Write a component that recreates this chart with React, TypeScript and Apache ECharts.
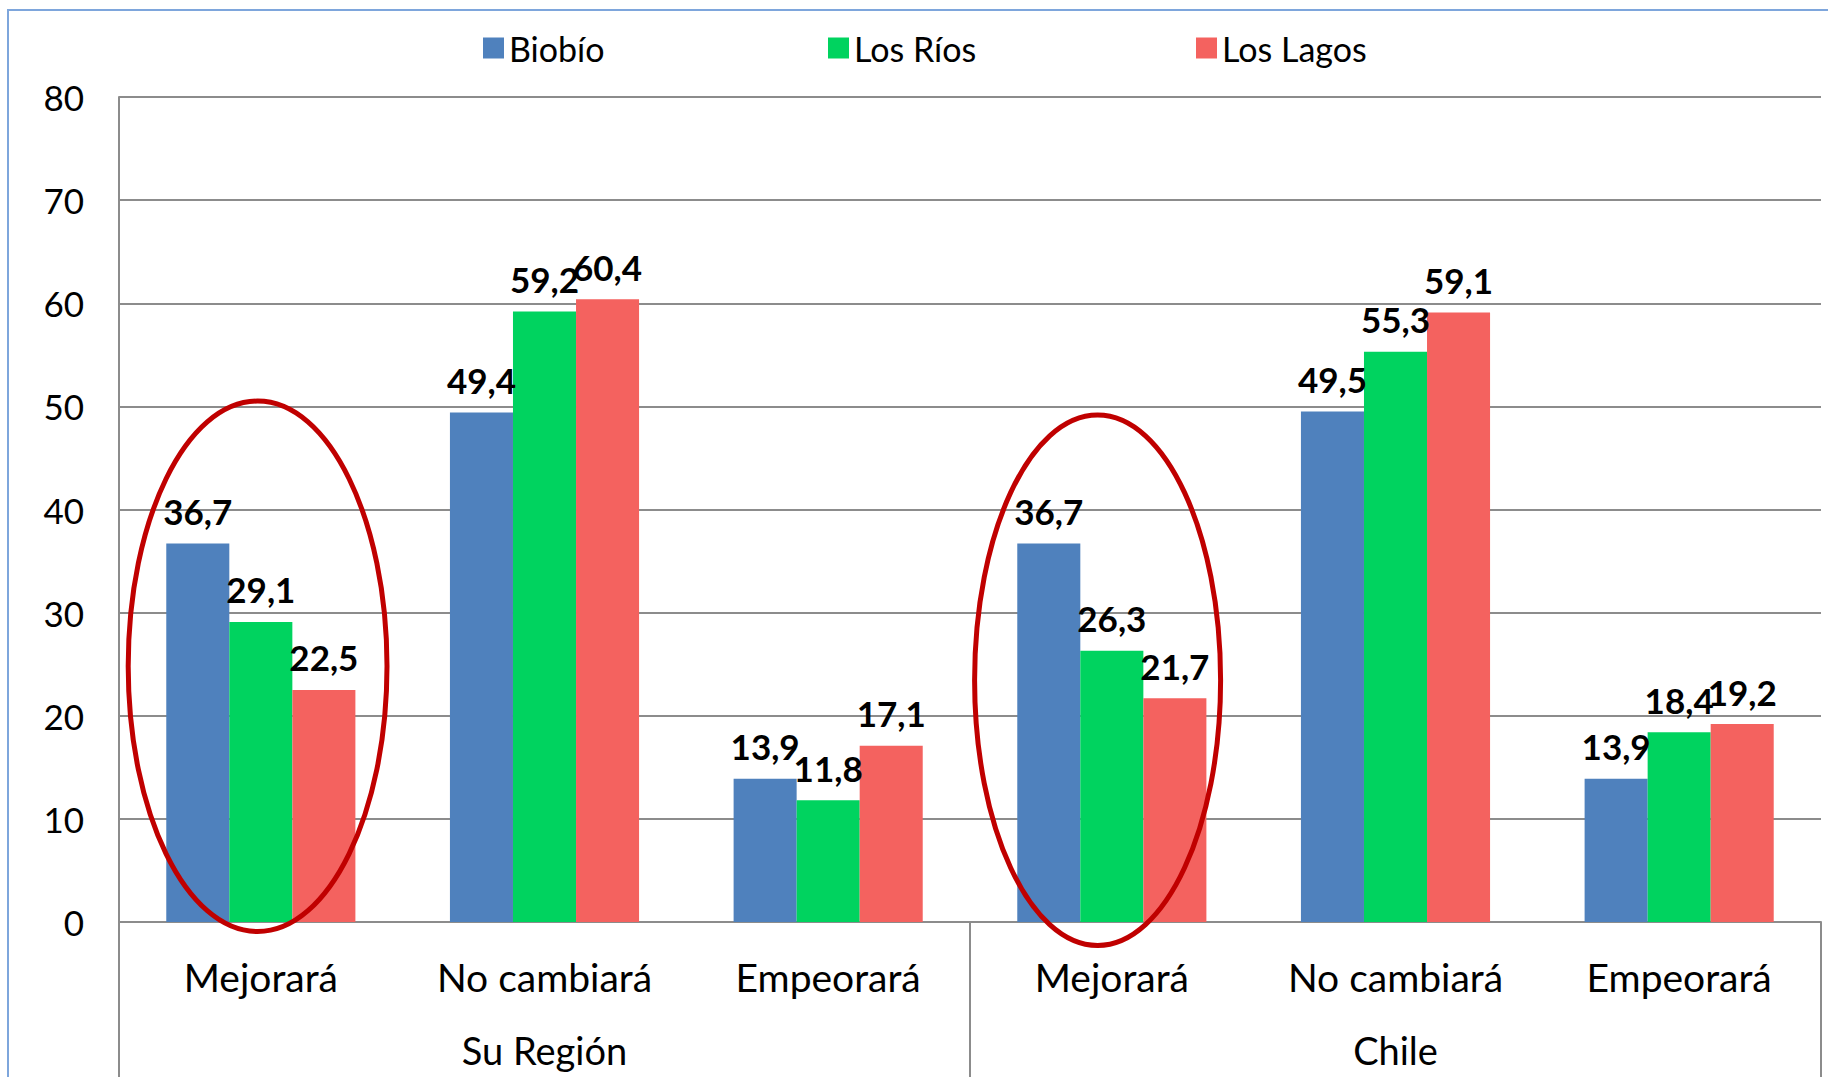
import React, { useEffect, useRef } from "react";
import * as echarts from "echarts";

const categories = ["Mejorará", "No cambiará", "Empeorará", "Mejorará", "No cambiará", "Empeorará"];
const groups = ["Su Región", "Chile"];
const seriesNames = ["Biobío", "Los Ríos", "Los Lagos"];
const biobio = [36.7, 49.4, 13.9, 36.7, 49.5, 13.9];
const losRios = [29.1, 59.2, 11.8, 26.3, 55.3, 18.4];
const losLagos = [22.5, 60.4, 17.1, 21.7, 59.1, 19.2];
const colors = ["#4F81BD", "#00D35F", "#F4625F"];

const FONT = "Lato";
const GRAY = "#8c8c8c";

export default function App() {
  const ref = useRef<HTMLDivElement>(null);
  useEffect(() => {
    if (!ref.current) return;
    const chart = echarts.init(ref.current, undefined, { renderer: "svg" });
    const values = [biobio, losRios, losLagos];
    const fmt = (p: any) => String(p.value).replace(".", ",");
    const legendLefts = [478, 823, 1191];
    chart.setOption({
      animation: false,
      backgroundColor: "#ffffff",
      textStyle: { fontFamily: FONT },
      legend: seriesNames.map((n, i) => ({
        data: [n],
        left: legendLefts[i],
        top: 26,
        itemWidth: 21,
        itemHeight: 21,
        icon: "rect",
        textStyle: { fontFamily: FONT, fontSize: 34, color: "#000" },
      })),
      grid: { left: 119, right: 7, top: 97, bottom: 155, containLabel: false },
      xAxis: [
        {
          type: "category",
          data: categories,
          position: "bottom",
          axisLine: { show: true, lineStyle: { color: GRAY, width: 2 } },
          axisTick: { show: false },
          axisLabel: { fontFamily: FONT, fontSize: 39, color: "#000", margin: 35, interval: 0 },
          splitLine: { show: false },
        },
        {
          type: "category",
          data: groups,
          position: "bottom",
          axisLine: { show: false },
          axisTick: { show: true, length: 160, lineStyle: { color: GRAY, width: 2 }, alignWithLabel: false },
          axisLabel: { fontFamily: FONT, fontSize: 38, lineHeight: 38, color: "#000", margin: 109, interval: 0 },
          splitLine: { show: false },
        },
      ],
      yAxis: {
        type: "value",
        min: 0,
        max: 80,
        interval: 10,
        axisLine: { show: true, lineStyle: { color: GRAY, width: 2 } },
        axisTick: { show: false },
        axisLabel: { fontFamily: FONT, fontSize: 35, color: "#000", margin: 35 },
        splitLine: { show: true, lineStyle: { color: GRAY, width: 2 } },
      },
      series: seriesNames.map((n, i) => ({
        name: n,
        type: "bar",
        xAxisIndex: 0,
        data: values[i],
        barGap: "0%",
        barCategoryGap: "33.33%",
        itemStyle: { color: colors[i] },
        label: {
          show: true,
          position: "top",
          distance: 15,
          formatter: fmt,
          fontFamily: FONT,
          fontWeight: "bold",
          fontSize: 35,
          color: "#000",
        },
      })),
      graphic: [
        {
          type: "rect",
          shape: { x: 8, y: 10, width: 1900, height: 1200 },
          style: { fill: "none", stroke: "#7EA6DC", lineWidth: 2 },
          silent: true,
          z: 100,
        },
        {
          type: "ellipse",
          shape: { cx: 257.6, cy: 666.3, rx: 129.4, ry: 265.2 },
          style: { fill: "none", stroke: "#C00000", lineWidth: 5 },
          silent: true,
          z: 100,
        },
        {
          type: "ellipse",
          shape: { cx: 1097.6, cy: 680.2, rx: 123, ry: 265.2 },
          style: { fill: "none", stroke: "#C00000", lineWidth: 5 },
          silent: true,
          z: 100,
        },
      ],
    });
    return () => chart.dispose();
  }, []);
  return (
    <div
      ref={ref}
      style={{ position: "fixed", left: 0, top: 0, width: 1828, height: 1077 }}
    />
  );
}
